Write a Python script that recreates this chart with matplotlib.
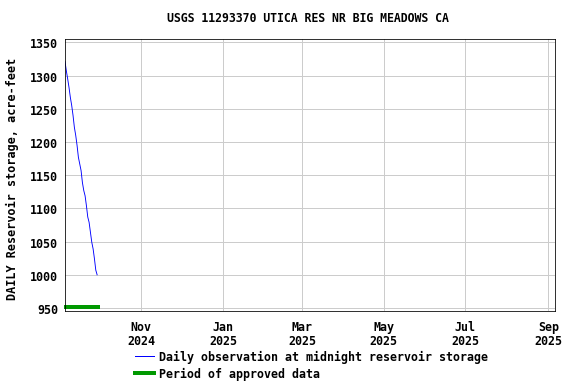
import numpy as np
import pandas as pd
import matplotlib
matplotlib.use("Agg")
import matplotlib.pyplot as plt
from matplotlib.lines import Line2D

# daily storage, acre-feet
dates = pd.date_range("2024-09-05", periods=25, freq="D")
storage = [1321, 1307, 1295, 1282, 1267, 1255, 1240, 1222, 1210, 1195,
           1177, 1167, 1157, 1139, 1127, 1119, 1104, 1087, 1079, 1064,
           1049, 1039, 1024, 1007, 1000]
approved_start = pd.Timestamp("2024-09-04")
approved_end = pd.Timestamp("2024-10-01")

title = "USGS 11293370 UTICA RES NR BIG MEADOWS CA"
ylabel = "DAILY Reservoir storage, acre-feet"

plt.rcParams["font.family"] = "DejaVu Sans Mono"
plt.rcParams["font.weight"] = "bold"
FS = 11.6

fig = plt.figure(figsize=(8, 5.333), dpi=72)
ax = fig.add_axes([65/576, 1 - 312/384, 490/576, 272/384])

ax.plot(dates, storage, color="#0000ff", lw=0.9)
ax.plot([approved_start, approved_end], [951, 951], color="#009900", lw=4,
        solid_capstyle="butt", clip_on=False)

ax.set_xlim(pd.Timestamp("2024-09-05"), pd.Timestamp("2025-09-06"))
ax.set_ylim(945.5, 1355)
ax.set_yticks(np.arange(950, 1351, 50))
ticks = pd.to_datetime(["2024-11-01", "2025-01-01", "2025-03-01",
                        "2025-05-01", "2025-07-01", "2025-09-01"])
ax.set_xticks(ticks)
ax.set_xticklabels([d.strftime("%b\n%Y") for d in ticks], fontsize=FS,
                   fontweight="bold", linespacing=1.1)
for lab in ax.get_yticklabels():
    lab.set_fontsize(FS)
    lab.set_fontweight("bold")
ax.tick_params(axis="x", length=0, pad=9)
ax.tick_params(axis="y", length=0, pad=7)
ax.grid(True, color="#cccccc", lw=1)
ax.set_axisbelow(True)
for s in ax.spines.values():
    s.set_color("black")

fig.text(0.5 + 20/576, 1 - 19/384, title, ha="center", va="center",
         fontsize=11.5, fontweight="bold")
fig.text(12/576, 1 - 179/384, ylabel, rotation=90, ha="center", va="center",
         fontsize=11.7, fontweight="bold")

handles = [Line2D([], [], color="#0000ff", lw=1),
           Line2D([], [], color="#009900", lw=4)]
labels = ["Daily observation at midnight reservoir storage",
          "Period of approved data"]
fig.legend(handles, labels, loc="upper left",
           bbox_to_anchor=(135/576, 1 - 351/384), frameon=False,
           fontsize=FS, handlelength=1.6, handletextpad=0.5,
           labelspacing=0.35, borderaxespad=0, borderpad=0)

fig.savefig("out.png", dpi=72)
